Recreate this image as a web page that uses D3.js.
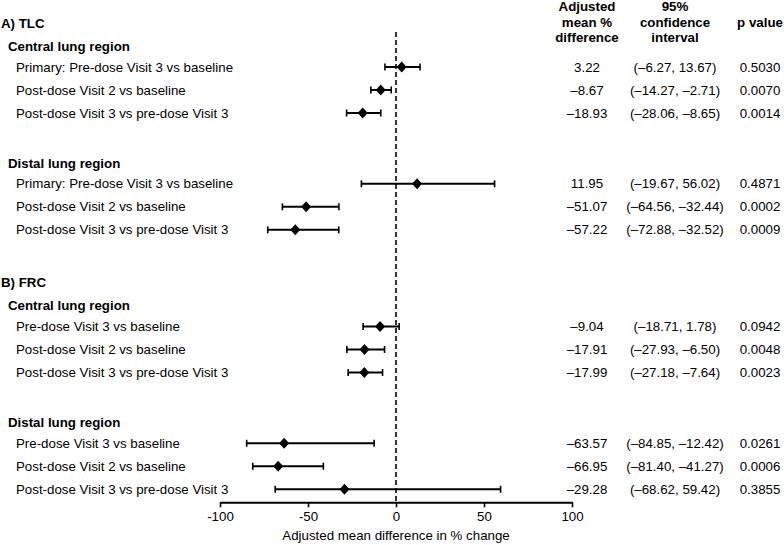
<!DOCTYPE html>
<html>
<head>
<meta charset="utf-8">
<script src="https://cdn.jsdelivr.net/npm/d3@7"></script>
<style>
  body { margin: 0; background: #fff; }
  svg text { font-family: "Liberation Sans", Arial, sans-serif; fill: #000; }
</style>
</head>
<body>
<div id="forest"></div>
<script>
// chart data
const panels = ["A) TLC", "B) FRC"];
const regions = ["Central lung region", "Distal lung region"];
const rowLabels = [
  "Primary: Pre-dose Visit 3 vs baseline",
  "Post-dose Visit 2 vs baseline",
  "Post-dose Visit 3 vs pre-dose Visit 3",
  "Primary: Pre-dose Visit 3 vs baseline",
  "Post-dose Visit 2 vs baseline",
  "Post-dose Visit 3 vs pre-dose Visit 3",
  "Pre-dose Visit 3 vs baseline",
  "Post-dose Visit 2 vs baseline",
  "Post-dose Visit 3 vs pre-dose Visit 3",
  "Pre-dose Visit 3 vs baseline",
  "Post-dose Visit 2 vs baseline",
  "Post-dose Visit 3 vs pre-dose Visit 3"
];
const rowPanel  = [0, 0, 0, 0, 0, 0, 1, 1, 1, 1, 1, 1];
const rowRegion = [0, 0, 0, 1, 1, 1, 0, 0, 0, 1, 1, 1];
const estimates = [3.22, -8.67, -18.93, 11.95, -51.07, -57.22, -9.04, -17.91, -17.99, -63.57, -66.95, -29.28];
const ciLower   = [-6.27, -14.27, -28.06, -19.67, -64.56, -72.88, -18.71, -27.93, -27.18, -84.85, -81.40, -68.62];
const ciUpper   = [13.67, -2.71, -8.65, 56.02, -32.44, -32.52, 1.78, -6.50, -7.64, -12.42, -41.27, 59.42];
const pValues   = ["0.5030", "0.0070", "0.0014", "0.4871", "0.0002", "0.0009",
                   "0.0942", "0.0048", "0.0023", "0.0261", "0.0006", "0.3855"];
const colHeaders = [["Adjusted", "mean %", "difference"], ["95%", "confidence", "interval"], ["", "p value", ""]];
const xTicks = [-100, -50, 0, 50, 100];
const xTitle = "Adjusted mean difference in % change";

const width = 784, height = 545;
const fontSize = 13.3;

var svg = d3.select("#forest").append("svg")
  .attr("width", width)
  .attr("height", height);

// x scale for the plot
var x = d3.scaleLinear().domain([-100, 100]).range([220, 572]);

// work out a slot (in row units) for every row, with gaps between groups
var regionGap = 3.08, panelGap = 4.2;
var slots = [];
var slot = 0;
rowLabels.forEach(function(d, i) {
  if (i > 0) {
    if (rowPanel[i] !== rowPanel[i - 1]) slot += panelGap;
    else if (rowRegion[i] !== rowRegion[i - 1]) slot += regionGap;
    else slot += 1;
  }
  slots.push(slot);
});
var y = d3.scaleLinear().domain([0, 1]).range([67, 90]);
var axisY = y(slots[slots.length - 1]) + 13;

// negative numbers are shown with an en dash
function fmt(v) {
  var s = Math.abs(v).toFixed(2);
  return v < 0 ? "\u2013" + s : s;
}

// headers for panels and regions
rowLabels.forEach(function(d, i) {
  var newPanel = i === 0 || rowPanel[i] !== rowPanel[i - 1];
  var newRegion = newPanel || rowRegion[i] !== rowRegion[i - 1];
  if (newPanel) {
    svg.append("text")
      .attr("x", 1)
      .attr("y", y(slots[i] - 1.91))
      .attr("dy", "0.35em")
      .style("font-size", fontSize + "px")
      .style("font-weight", "bold")
      .text(panels[rowPanel[i]]);
  }
  if (newRegion) {
    svg.append("text")
      .attr("x", 8)
      .attr("y", y(slots[i] - 0.9))
      .attr("dy", "0.35em")
      .style("font-size", fontSize + "px")
      .style("font-weight", "bold")
      .text(regions[rowRegion[i]]);
  }
});

// row labels
svg.selectAll(".rowlabel")
  .data(rowLabels)
  .enter().append("text")
    .attr("class", "rowlabel")
    .attr("x", 16)
    .attr("y", function(d, i) { return y(slots[i]); })
    .attr("dy", "0.35em")
    .style("font-size", fontSize + "px")
    .text(function(d) { return d; });

// zero reference line
svg.append("line")
  .attr("x1", x(0)).attr("x2", x(0))
  .attr("y1", 32).attr("y2", axisY)
  .attr("stroke", "#000")
  .attr("stroke-width", 1.6)
  .attr("stroke-dasharray", "5,3");

// confidence intervals
var rows = svg.selectAll(".ci")
  .data(estimates)
  .enter().append("g")
    .attr("class", "ci")
    .attr("transform", function(d, i) { return "translate(0," + y(slots[i]) + ")"; });

rows.append("line")
  .attr("x1", function(d, i) { return x(ciLower[i]); })
  .attr("x2", function(d, i) { return x(ciUpper[i]); })
  .attr("stroke", "#000")
  .attr("stroke-width", 2);

// caps
rows.append("line")
  .attr("x1", function(d, i) { return x(ciLower[i]); })
  .attr("x2", function(d, i) { return x(ciLower[i]); })
  .attr("y1", -3.5).attr("y2", 3.5)
  .attr("stroke", "#000")
  .attr("stroke-width", 1.6);
rows.append("line")
  .attr("x1", function(d, i) { return x(ciUpper[i]); })
  .attr("x2", function(d, i) { return x(ciUpper[i]); })
  .attr("y1", -3.5).attr("y2", 3.5)
  .attr("stroke", "#000")
  .attr("stroke-width", 1.6);

// diamonds for the point estimate
rows.append("path")
  .attr("d", "M0,-5.5L5,0L0,5.5L-5,0Z")
  .attr("transform", function(d) { return "translate(" + x(d) + ",0)"; })
  .attr("fill", "#000");

// x axis
var xAxis = d3.axisBottom(x)
  .tickValues(xTicks)
  .tickSize(5)
  .tickSizeOuter(0)
  .tickPadding(4)
  .tickFormat(function(d) { return String(d); });

var axisG = svg.append("g")
  .attr("transform", "translate(0," + axisY + ")")
  .call(xAxis);
axisG.select(".domain").attr("stroke-width", 2);
axisG.selectAll(".tick line").attr("stroke-width", 1.6);
axisG.selectAll("text")
  .style("font-family", '"Liberation Sans", Arial, sans-serif')
  .style("font-size", fontSize + "px")
  .attr("fill", "#000");

svg.append("text")
  .attr("x", x(0))
  .attr("y", axisY + 38)
  .attr("text-anchor", "middle")
  .style("font-size", fontSize + "px")
  .text(xTitle);

// table columns on the right
var colX = [587, 675, 760];
colHeaders.forEach(function(lines, c) {
  lines.forEach(function(t, k) {
    svg.append("text")
      .attr("x", colX[c])
      .attr("y", 11 + k * 15.5)
      .attr("text-anchor", "middle")
      .style("font-size", fontSize + "px")
      .style("font-weight", "bold")
      .text(t);
  });
});

var colText = [
  function(i) { return fmt(estimates[i]); },
  function(i) { return "(" + fmt(ciLower[i]) + ", " + fmt(ciUpper[i]) + ")"; },
  function(i) { return pValues[i]; }
];
colText.forEach(function(f, c) {
  svg.selectAll(".col" + c)
    .data(estimates)
    .enter().append("text")
      .attr("class", "col" + c)
      .attr("x", colX[c])
      .attr("y", function(d, i) { return y(slots[i]); })
      .attr("dy", "0.35em")
      .attr("text-anchor", "middle")
      .style("font-size", fontSize + "px")
      .text(function(d, i) { return f(i); });
});
</script>
</body>
</html>
